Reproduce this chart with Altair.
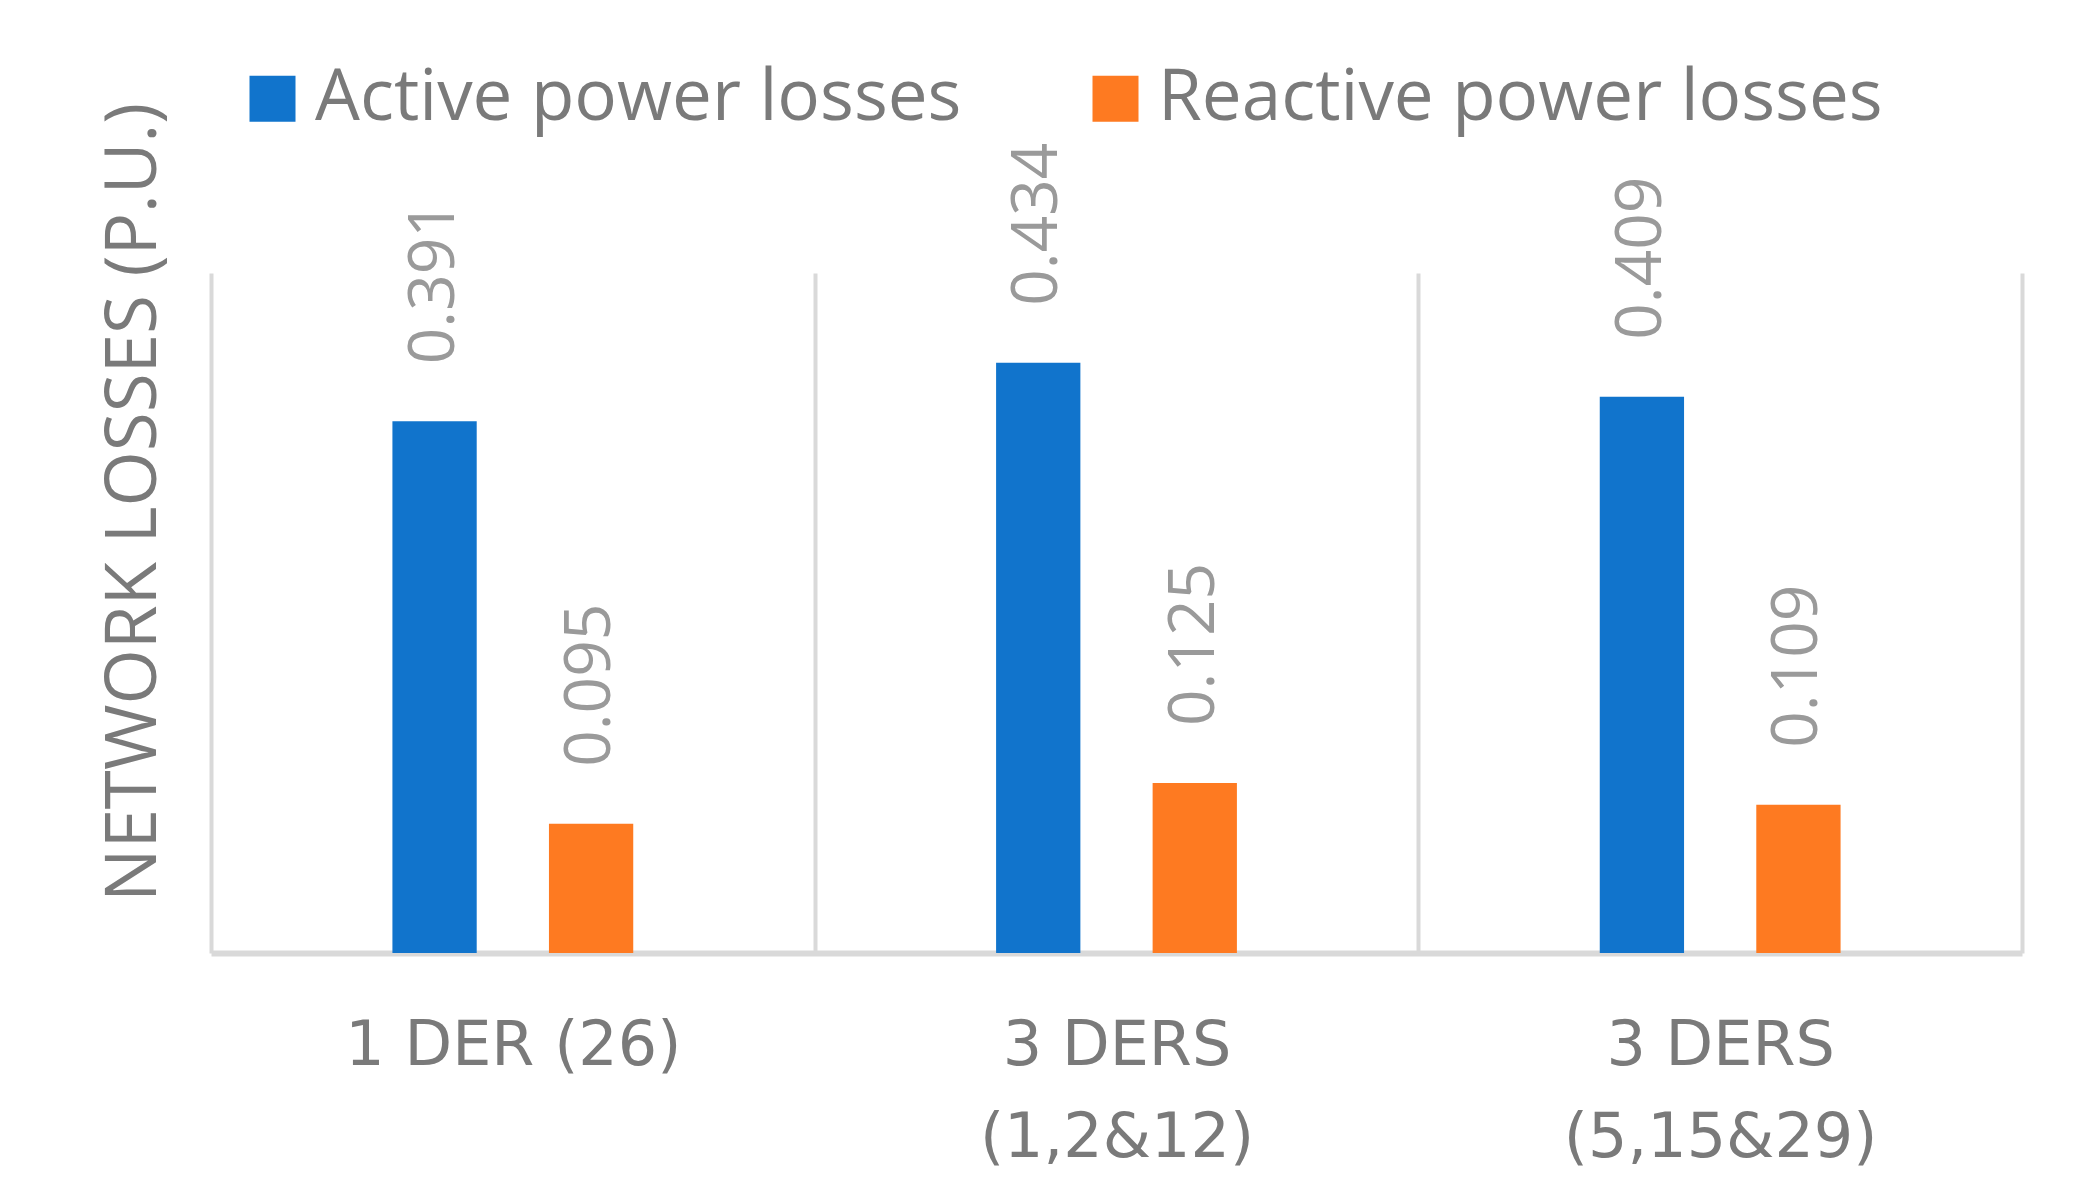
import altair as alt
import pandas as pd

# ---- data ----
categories = ["1 DER (26)", "3 DERS|(1,2&12)", "3 DERS|(5,15&29)"]
series = ["Active power losses", "Reactive power losses"]
active = [0.391, 0.434, 0.409]
reactive = [0.095, 0.125, 0.109]
colors = ["#1174CC", "#FE7A21"]

rows = []
for c, a, r in zip(categories, active, reactive):
    rows.append({"Category": c, "Series": series[0], "Value": a})
    rows.append({"Category": c, "Series": series[1], "Value": r})
df = pd.DataFrame(rows)

GRID = "#d9d9d9"
TXT = "#7a7a7a"

# empty slots on each side of the pair of bars inside a category band
offset_domain = ["_left"] + series + ["_right"]

x_enc = alt.X(
    "Category:N",
    sort=categories,
    scale=alt.Scale(paddingInner=0, paddingOuter=0),
    axis=alt.Axis(
        title=None,
        labelExpr="split(datum.label, '|')",
        labelFont="DejaVu Sans",
        labelFontSize=62,
        labelColor=TXT,
        labelAngle=0,
        labelBaseline="top",
        labelPadding=62,
        labelLineHeight=92,
        labelLimit=1000,
        ticks=False,
        tickSize=0,
        domainColor=GRID,
        domainWidth=6,
        grid=True,
        gridColor=GRID,
        gridWidth=4,
        tickBand="extent",
    ),
)
xo_enc = alt.XOffset(
    "Series:N",
    scale=alt.Scale(domain=offset_domain, paddingInner=0.4615, paddingOuter=0.159),
)
y_enc = alt.Y(
    "Value:Q",
    scale=alt.Scale(domain=[0, 0.5], nice=False, zero=True),
    axis=alt.Axis(
        title="NETWORK LOSSES (P.U.)",
        labels=False,
        ticks=False,
        tickSize=0,
        grid=False,
        domain=False,
        titleFont="Open Sans",
        titleFontSize=71,
        titleFontWeight="normal",
        titleColor=TXT,
        titleAngle=270,
        titleAlign="center",
        titleBaseline="middle",
        titleX=-77,
        titleY=229,
    ),
)

bars = alt.Chart(df).mark_bar().encode(
    x=x_enc,
    xOffset=xo_enc,
    y=y_enc,
    color=alt.Color(
        "Series:N",
        scale=alt.Scale(domain=series, range=colors),
        legend=alt.Legend(
            title=None,
            orient="none",
            legendX=26,
            legendY=-210,
            direction="horizontal",
            columns=2,
            symbolType="square",
            symbolSize=2116,
            symbolStrokeWidth=0,
            symbolOpacity=1,
            labelFont="Open Sans",
            labelFontSize=71,
            labelColor=TXT,
            labelOffset=7,
            labelLimit=1000,
            columnPadding=118,
            padding=0,
        ),
    ),
)

labels = alt.Chart(df).mark_text(
    angle=270,
    align="left",
    baseline="middle",
    dx=57,
    font="Open Sans",
    fontSize=64,
    color="#9a9a9a",
).encode(
    x=x_enc,
    xOffset=xo_enc,
    y=y_enc,
    text=alt.Text("Value:Q", format=".3f"),
)

chart = (
    alt.layer(bars, labels)
    .properties(
        width=1811,
        height=680,
        autosize=alt.AutoSizeParams(type="none"),
        padding={"left": 203, "top": 265, "right": 69, "bottom": 241},
        background="white",
    )
    .configure_view(stroke=None)
)

chart.save("out.html", embed_options={"renderer": "svg", "actions": False})
